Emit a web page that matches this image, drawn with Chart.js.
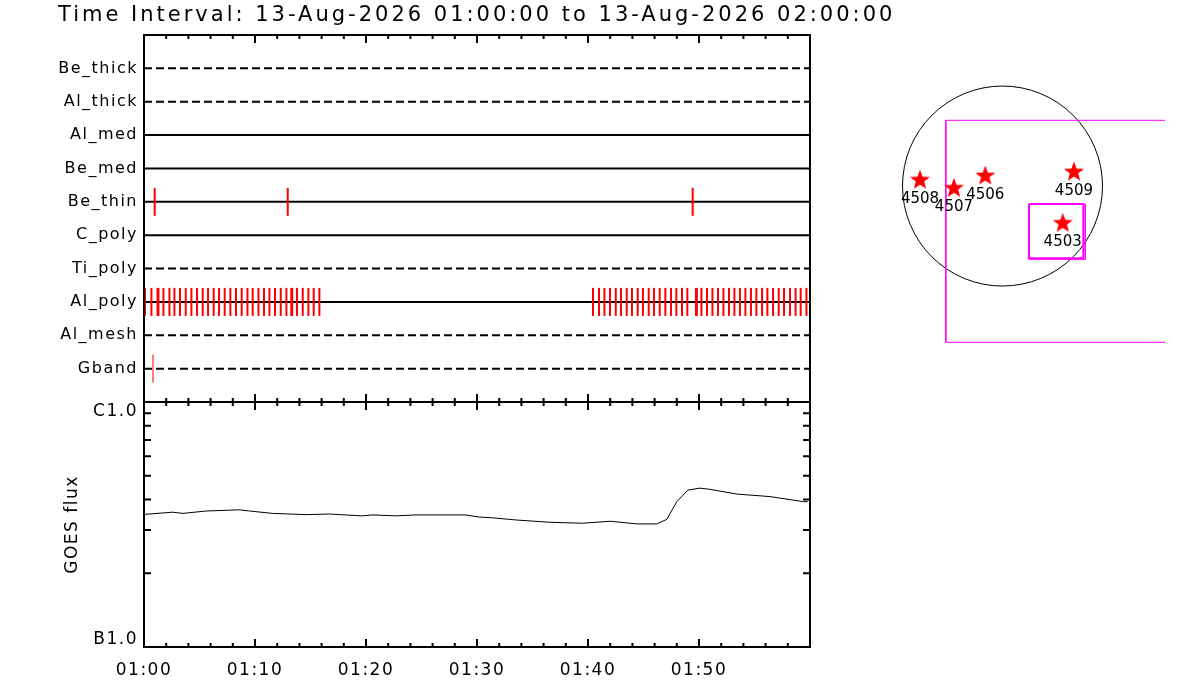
<!DOCTYPE html>
<html>
<head>
<meta charset="utf-8">
<script src="https://cdn.jsdelivr.net/npm/chart.js@4.4.1/dist/chart.umd.min.js"></script>
<style>
  html, body { margin: 0; padding: 0; background: #fff; }
  body { width: 1200px; height: 700px; position: relative; overflow: hidden; }
  .panel { position: absolute; }
</style>
</head>
<body>
<div class="panel" style="left:0;top:0;width:1200px;height:425px"><canvas id="filterChart"></canvas></div>
<div class="panel" style="left:0;top:380px;width:830px;height:320px"><canvas id="goesChart"></canvas></div>
<div class="panel" style="left:880px;top:60px;width:285px;height:300px"><canvas id="mapChart"></canvas></div>
<script>
// Data (times in minutes after 01:00)
const titleText = 'Time Interval: 13-Aug-2026 01:00:00 to 13-Aug-2026 02:00:00';
const filterNames = ['Be_thick', 'Al_thick', 'Al_med', 'Be_med', 'Be_thin', 'C_poly', 'Ti_poly', 'Al_poly', 'Al_mesh', 'Gband'];
const filterDashed = [true, true, false, false, false, false, true, false, true, true];

const beThinTimes = [0.96, 12.95, 49.43];
const gbandTimes = [0.81];
const alPolyTimes = [0.09, 0.67, 1.22, 1.30, 1.75, 2.29, 2.74, 3.24, 3.76, 4.27, 4.77, 5.29, 5.77, 6.28, 6.76,
  7.27, 7.78, 8.29, 8.80, 9.32, 9.79, 10.31, 10.81, 11.30, 11.80, 12.32, 12.83, 13.27, 13.35, 13.78, 14.30,
  14.81, 15.29, 15.80,
  40.45, 40.99, 41.48, 41.98, 42.50, 42.97, 43.49, 43.96, 44.48, 44.95, 45.47, 45.95, 46.46, 46.97, 47.48,
  47.96, 48.47, 48.95, 49.73, 49.81, 50.22, 50.72, 51.21, 51.71, 52.20, 52.70, 53.19, 53.69, 54.18, 54.68,
  55.17, 55.68, 56.16, 56.67, 57.18, 57.66, 58.20, 58.70, 59.16, 59.68];

const tickMinutes = [0, 10, 20, 30, 40, 50];
const tickLabels = ['01:00', '01:10', '01:20', '01:30', '01:40', '01:50'];

const goesMinutes = [0.1, 2.6, 3.5, 5.6, 8.6, 9.5, 11.6, 14.6, 16.7, 19.6, 20.6, 22.7, 24.5, 29.0, 30.2, 31.3,
  33.5, 36.5, 39.5, 42.0, 44.4, 46.2, 47.1, 48.0, 49.0, 50.1, 51.0, 53.4, 56.4, 59.4, 59.8];
const goesFlux = [3.48e-7, 3.55e-7, 3.51e-7, 3.59e-7, 3.63e-7, 3.59e-7, 3.51e-7, 3.47e-7, 3.49e-7, 3.43e-7,
  3.46e-7, 3.43e-7, 3.46e-7, 3.46e-7, 3.39e-7, 3.37e-7, 3.30e-7, 3.23e-7, 3.20e-7, 3.26e-7, 3.18e-7,
  3.18e-7, 3.32e-7, 3.92e-7, 4.37e-7, 4.45e-7, 4.40e-7, 4.21e-7, 4.11e-7, 3.92e-7, 3.92e-7];
const goesTickValues = [1e-7, 1e-6];
const goesTickLabels = ['B1.0', 'C1.0'];
const goesMinorTicks = [2e-7, 3e-7, 4e-7, 5e-7, 6e-7, 7e-7, 8e-7, 9e-7];

// map, arcsec from disk centre
const sunX = [0];
const sunY = [0];
const sunRadius = 960;
const arNames = ['4508', '4507', '4506', '4509', '4503'];
const arX = [-792, -466, -165, 686, 578];
const arY = [56, -22, 96, 134, -358];
const fovBoxX = [2000, -544, -544, 2000];
const fovBoxY = [631, 631, -1500, -1500];
const sotBoxX = [254, 776, 776, 254, 254];
const sotBoxY = [-173, -173, -694, -694, -173];
const sotBox2X = [254, 795, 795, 254, 254];
const sotBox2Y = [-173, -173, -704, -704, -173];

Chart.defaults.font.family = 'DejaVu Sans';
Chart.defaults.color = '#000';
Chart.defaults.animation = false;

const rowOf = i => filterNames.length - i;

// frame round the plot area with inward ticks
function framePlugin(cfg) {
  return {
    id: 'frame',
    afterDatasetsDraw(chart) {
      const { ctx, chartArea: a, scales: { x, y } } = chart;
      ctx.save();
      ctx.strokeStyle = '#000';
      ctx.lineWidth = 2;
      ctx.strokeRect(a.left, a.top, a.right - a.left, a.bottom - a.top);
      ctx.beginPath();
      for (let m = 0; m <= 60; m += 2) {
        const px = x.getPixelForValue(m);
        const len = m % 10 === 0 ? 8 : 4;
        if (cfg.top) { ctx.moveTo(px, a.top); ctx.lineTo(px, a.top + len); }
        if (cfg.bottom) { ctx.moveTo(px, a.bottom); ctx.lineTo(px, a.bottom - len); }
      }
      (cfg.yTicks || []).forEach(v => {
        const py = y.getPixelForValue(v);
        ctx.moveTo(a.left, py); ctx.lineTo(a.left + 7, py);
        ctx.moveTo(a.right, py); ctx.lineTo(a.right - 7, py);
      });
      ctx.stroke();
      ctx.restore();
    }
  };
}

const spacing = {
  id: 'spacing',
  beforeDraw(chart) { chart.ctx.letterSpacing = '1.5px'; },
  afterDraw(chart) { chart.ctx.letterSpacing = '0px'; }
};

const titlePlugin = {
  id: 'titleText',
  afterDraw(chart) {
    const ctx = chart.ctx;
    ctx.save();
    ctx.letterSpacing = '3px';
    ctx.font = '21px "DejaVu Sans"';
    ctx.fillStyle = '#000';
    ctx.textBaseline = 'middle';
    ctx.fillText(titleText, 58, 16);
    ctx.restore();
  }
};

// GOES class labels sit inside the decade: C1.0 hangs below the top, B1.0 sits on the bottom
const goesLabels = {
  id: 'goesLabels',
  afterDraw(chart) {
    const { ctx, chartArea: a, scales: { y } } = chart;
    ctx.save();
    ctx.letterSpacing = '1.5px';
    ctx.font = '17px "DejaVu Sans"';
    ctx.fillStyle = '#000';
    ctx.textAlign = 'right';
    goesTickValues.forEach((v, i) => {
      ctx.textBaseline = v === y.max ? 'top' : 'bottom';
      const py = y.getPixelForValue(v) + (v === y.max ? 1 : 1);
      ctx.fillText(goesTickLabels[i], a.left - 6, py);
    });
    ctx.restore();
  }
};

// Filter timeline panel
const filterDatasets = [];
filterNames.forEach((name, i) => {
  filterDatasets.push({
    label: name,
    data: [{ x: 0, y: rowOf(i) }, { x: 60, y: rowOf(i) }],
    showLine: true,
    borderColor: '#000',
    borderWidth: 2,
    borderDash: filterDashed[i] ? [8, 4] : [],
    pointRadius: 0,
    order: 2
  });
});
[[beThinTimes, 'Be_thin', 2], [alPolyTimes, 'Al_poly', 2], [gbandTimes, 'Gband', 1]].forEach(([times, name, w]) => {
  const row = rowOf(filterNames.indexOf(name));
  filterDatasets.push({
    label: name + ' images',
    data: times.map(t => ({ x: t, y: row })),
    showLine: false,
    pointStyle: 'line',
    pointRotation: 90,
    pointRadius: 14,
    pointBorderColor: '#ff0000',
    pointBorderWidth: w,
    order: 1
  });
});

new Chart(document.getElementById('filterChart'), {
  type: 'scatter',
  data: { datasets: filterDatasets },
  options: {
    responsive: true,
    maintainAspectRatio: false,
    events: [],
    layout: { autoPadding: false, padding: { left: 0, right: 390, top: 35, bottom: 23 } },
    plugins: { legend: { display: false }, tooltip: { enabled: false } },
    scales: {
      x: { type: 'linear', min: 0, max: 60, display: false },
      y: {
        type: 'linear', min: 0, max: 11,
        grid: { display: false, drawTicks: false },
        border: { display: false },
        afterFit(axis) { axis.width = 144; },
        afterBuildTicks(axis) { axis.ticks = filterNames.map((n, i) => ({ value: rowOf(i) })); },
        ticks: { padding: 6, font: { size: 16 }, color: '#000', autoSkip: false,
          callback: v => filterNames[filterNames.length - v] }
      }
    }
  },
  plugins: [spacing, framePlugin({ top: true, bottom: true }), titlePlugin]
});

// GOES panel
new Chart(document.getElementById('goesChart'), {
  type: 'scatter',
  data: {
    datasets: [{
      label: 'GOES',
      data: goesMinutes.map((t, i) => ({ x: t, y: goesFlux[i] })),
      showLine: true,
      borderColor: '#000',
      borderWidth: 1,
      pointRadius: 0,
      tension: 0
    }]
  },
  options: {
    responsive: true,
    maintainAspectRatio: false,
    events: [],
    layout: { autoPadding: false, padding: { left: 58, right: 20, top: 22, bottom: 0 } },
    plugins: { legend: { display: false }, tooltip: { enabled: false } },
    scales: {
      x: {
        type: 'linear', min: 0, max: 60, position: 'bottom',
        grid: { display: false, drawTicks: false },
        border: { display: false },
        afterFit(axis) { axis.height = 53; },
        afterBuildTicks(axis) { axis.ticks = tickMinutes.map(v => ({ value: v })); },
        ticks: { padding: 13, font: { size: 17 }, color: '#000', maxRotation: 0, autoSkip: false,
          callback: (v, i) => tickLabels[i] }
      },
      y: {
        type: 'logarithmic', min: 1e-7, max: 1e-6,
        grid: { display: false, drawTicks: false },
        border: { display: false },
        afterFit(axis) { axis.width = 86; },
        afterBuildTicks(axis) { axis.ticks = goesTickValues.map(v => ({ value: v })); },
        ticks: { display: false },
        title: { display: true, text: 'GOES flux', font: { size: 17 }, color: '#000', padding: { top: 4, bottom: 4 } }
      }
    }
  },
  plugins: [spacing, framePlugin({ top: true, bottom: true, yTicks: goesMinorTicks }), goesLabels]
});

// Map panel
function starImage(size, color) {
  const c = document.createElement('canvas');
  c.width = c.height = size;
  const g = c.getContext('2d');
  const R = 10.5, r = R * 0.42, cx = size / 2, cy = size / 2;
  g.beginPath();
  for (let k = 0; k < 10; k++) {
    const ang = -Math.PI / 2 + k * Math.PI / 5;
    const rr = k % 2 === 0 ? R : r;
    g.lineTo(cx + rr * Math.cos(ang), cy + rr * Math.sin(ang));
  }
  g.closePath();
  g.fillStyle = color;
  g.fill();
  return c;
}

const arLabels = {
  id: 'arLabels',
  afterDatasetsDraw(chart) {
    const { ctx, scales: { x, y } } = chart;
    ctx.save();
    ctx.font = '15px "DejaVu Sans"';
    ctx.fillStyle = '#000';
    ctx.textAlign = 'center';
    ctx.textBaseline = 'middle';
    arNames.forEach((n, i) => {
      ctx.fillText(n, x.getPixelForValue(arX[i]), y.getPixelForValue(arY[i]) + 19);
    });
    ctx.restore();
  }
};

const boxSet = (xs, ys, w) => ({
  data: xs.map((v, i) => ({ x: v, y: ys[i] })),
  showLine: true,
  borderColor: '#ff00ff',
  borderWidth: w,
  pointRadius: 0
});

new Chart(document.getElementById('mapChart'), {
  type: 'scatter',
  data: {
    datasets: [
      {
        label: 'ARs',
        data: arX.map((v, i) => ({ x: v, y: arY[i] })),
        pointStyle: starImage(24, '#ff0000'),
        pointRadius: 10
      },
      boxSet(sotBoxX, sotBoxY, 2),
      boxSet(sotBox2X, sotBox2Y, 1),
      boxSet(fovBoxX, fovBoxY, 1),
      {
        label: 'limb',
        data: sunX.map((v, i) => ({ x: v, y: sunY[i] })),
        pointStyle: 'circle',
        pointRadius: ctx => {
          const s = ctx.chart.scales.x;
          return s.getPixelForValue(sunRadius) - s.getPixelForValue(0);
        },
        pointBackgroundColor: 'rgba(0,0,0,0)',
        pointBorderColor: '#000',
        pointBorderWidth: 1
      }
    ]
  },
  options: {
    responsive: true,
    maintainAspectRatio: false,
    events: [],
    layout: { autoPadding: false, padding: 0 },
    plugins: { legend: { display: false }, tooltip: { enabled: false } },
    scales: {
      x: { type: 'linear', min: -1176, max: 1560, display: false },
      y: { type: 'linear', min: -1670, max: 1210, display: false }
    }
  },
  plugins: [arLabels]
});
</script>
</body>
</html>
